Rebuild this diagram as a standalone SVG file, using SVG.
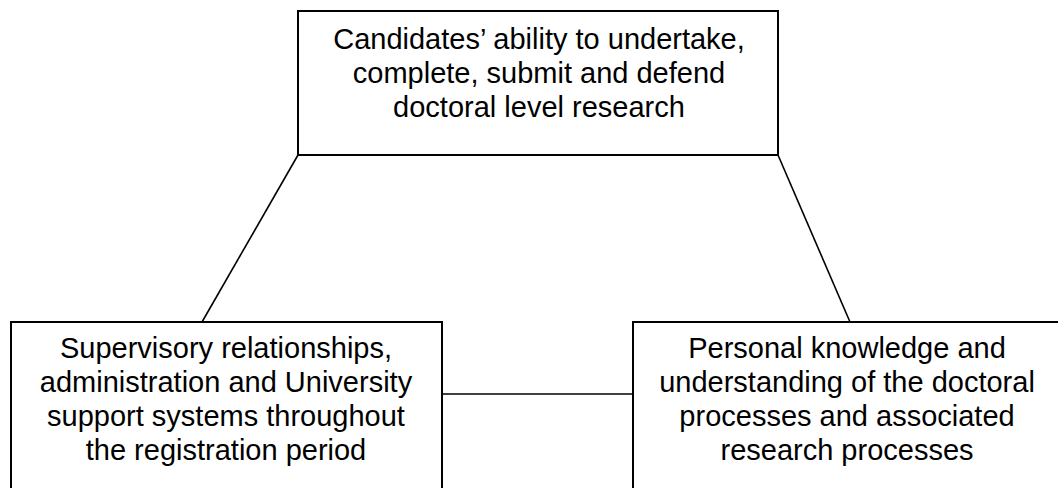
<svg xmlns="http://www.w3.org/2000/svg" width="1058" height="488" viewBox="0 0 1058 488">
<style>
.box{fill:#fff;stroke:#000;stroke-width:2}
.conn{stroke:#000;stroke-width:1.6;fill:none}
.t{font-family:"Liberation Sans",Arial,Helvetica,sans-serif;font-size:29px;fill:#000;text-anchor:middle}
</style>
<rect width="1058" height="488" fill="#fff"/>
<g id="connectors">
<line class="conn" x1="298" y1="155" x2="202" y2="322"/>
<line class="conn" x1="778" y1="155" x2="850" y2="322"/>
<line class="conn" x1="442" y1="394" x2="633" y2="394"/>
</g>
<g id="node-top">
<rect class="box" x="298" y="11" width="480" height="144"/>
<text class="t" x="539" y="49">Candidates’ ability to undertake,</text>
<text class="t" x="539" y="83">complete, submit and defend</text>
<text class="t" x="539" y="117">doctoral level research</text>
</g>
<g id="node-left">
<rect class="box" x="11" y="322" width="431" height="180"/>
<text class="t" x="226" y="358">Supervisory relationships,</text>
<text class="t" x="226" y="392">administration and University</text>
<text class="t" x="226" y="426">support systems throughout</text>
<text class="t" x="226" y="460">the registration period</text>
</g>
<g id="node-right">
<rect class="box" x="633" y="322" width="428" height="180"/>
<text class="t" x="847" y="358">Personal knowledge and</text>
<text class="t" x="847" y="392">understanding of the doctoral</text>
<text class="t" x="847" y="426">processes and associated</text>
<text class="t" x="847" y="460">research processes</text>
</g>
</svg>
